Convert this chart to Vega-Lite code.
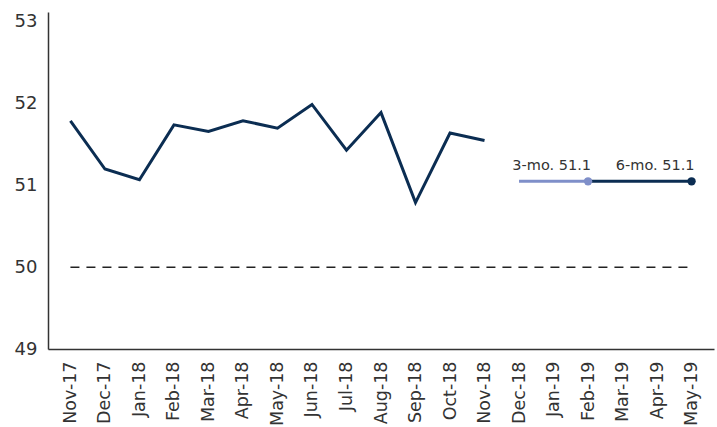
{
  "$schema": "https://vega.github.io/schema/vega-lite/v6.json",
  "width": 666,
  "height": 337,
  "autosize": "none",
  "padding": {"left": 48, "top": 12, "right": 3, "bottom": 78},
  "background": "white",
  "config": {"view": {"stroke": null}, "font": "DejaVu Sans"},
  "datasets": {
    "pmi": [
      {"month": "Nov-17", "value": 51.79},
      {"month": "Dec-17", "value": 51.2},
      {"month": "Jan-18", "value": 51.07},
      {"month": "Feb-18", "value": 51.74},
      {"month": "Mar-18", "value": 51.66},
      {"month": "Apr-18", "value": 51.79},
      {"month": "May-18", "value": 51.7},
      {"month": "Jun-18", "value": 51.99},
      {"month": "Jul-18", "value": 51.43},
      {"month": "Aug-18", "value": 51.89},
      {"month": "Sep-18", "value": 50.79},
      {"month": "Oct-18", "value": 51.64},
      {"month": "Nov-18", "value": 51.55}
    ],
    "ref": [
      {"month": "Nov-17", "value": 50},
      {"month": "May-19", "value": 50}
    ],
    "avg3": [
      {"month": "Dec-18", "value": 51.05},
      {"month": "Feb-19", "value": 51.05}
    ],
    "avg6": [
      {"month": "Feb-19", "value": 51.05},
      {"month": "May-19", "value": 51.05}
    ],
    "labels": [
      {"month": "Feb-19", "value": 51.05, "label": "3-mo. 51.1", "kind": "3"},
      {"month": "May-19", "value": 51.05, "label": "6-mo. 51.1", "kind": "6"}
    ]
  },
  "encoding": {
    "x": {
      "field": "month",
      "type": "ordinal",
      "sort": ["Nov-17","Dec-17","Jan-18","Feb-18","Mar-18","Apr-18","May-18","Jun-18","Jul-18","Aug-18","Sep-18","Oct-18","Nov-18","Dec-18","Jan-19","Feb-19","Mar-19","Apr-19","May-19"],
      "scale": {
        "type": "point",
        "padding": 0.65,
        "domain": ["Nov-17","Dec-17","Jan-18","Feb-18","Mar-18","Apr-18","May-18","Jun-18","Jul-18","Aug-18","Sep-18","Oct-18","Nov-18","Dec-18","Jan-19","Feb-19","Mar-19","Apr-19","May-19"]
      },
      "axis": {
        "title": null,
        "labelAngle": -90,
        "labelFontSize": 17.5,
        "labelColor": "#333333",
        "labelPadding": 12,
        "ticks": false,
        "domainColor": "#333333",
        "domainWidth": 1.5,
        "grid": false
      }
    },
    "y": {
      "field": "value",
      "type": "quantitative",
      "scale": {"domain": [49, 53.12], "nice": false, "zero": false},
      "axis": {
        "title": null,
        "values": [49, 50, 51, 52, 53],
        "labelFontSize": 18,
        "labelColor": "#333333",
        "labelPadding": 11,
        "ticks": false,
        "domainColor": "#333333",
        "domainWidth": 1.5,
        "grid": false
      }
    }
  },
  "layer": [
    {
      "data": {"name": "ref"},
      "mark": {"type": "line", "color": "#222222", "strokeWidth": 1.5, "strokeDash": [9, 7], "strokeCap": "butt"}
    },
    {
      "data": {"name": "pmi"},
      "mark": {"type": "line", "color": "#0b2d52", "strokeWidth": 3, "strokeJoin": "miter"}
    },
    {
      "data": {"name": "avg3"},
      "mark": {"type": "line", "color": "#7f8fc9", "strokeWidth": 3}
    },
    {
      "data": {"name": "avg6"},
      "mark": {"type": "line", "color": "#0b2d52", "strokeWidth": 3}
    },
    {
      "data": {"name": "labels"},
      "mark": {"type": "point", "filled": true, "size": 70, "opacity": 1},
      "encoding": {
        "color": {"field": "kind", "type": "nominal", "scale": {"domain": ["3", "6"], "range": ["#7f8fc9", "#0b2d52"]}, "legend": null}
      }
    },
    {
      "data": {"name": "labels"},
      "mark": {"type": "text", "align": "right", "baseline": "bottom", "dy": -8, "dx": 3, "fontSize": 14.5, "color": "#333333"},
      "encoding": {"text": {"field": "label"}}
    }
  ]
}
